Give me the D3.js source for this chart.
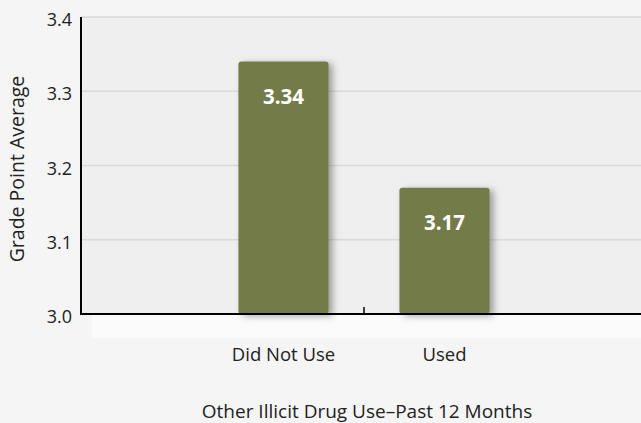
<!DOCTYPE html>
<html>
<head>
<meta charset="utf-8">
<script src="https://cdn.jsdelivr.net/npm/d3@7/dist/d3.min.js"></script>
<style>
  html, body { margin: 0; padding: 0; background: #f5f5f5; }
  svg { display: block; font-family: "Open Sans", "Noto Sans", sans-serif; }
</style>
</head>
<body>
<svg id="chart" width="641" height="423"></svg>
<script>
// Grade point average by other illicit drug use, past 12 months
const categories = ["Did Not Use", "Used"];
const gpaValues = [3.34, 3.17];
const yTicks = [3.0, 3.1, 3.2, 3.3, 3.4];
const xTitle = "Other Illicit Drug Use–Past 12 Months";
const yTitle = "Grade Point Average";

const svg = d3.select("#chart");
const W = 641, H = 423;
const plot = { left: 81, right: 641, top: 17, bottom: 314 };

const y = d3.scaleLinear().domain([3.0, 3.4]).range([plot.bottom, plot.top]);
const x = d3.scaleBand().domain(categories).range([203, 525])
  .paddingInner(0.44).paddingOuter(0.22);

// soft shadow behind the bars
const defs = svg.append("defs");
const f = defs.append("filter").attr("id", "barShadow")
  .attr("x", "-30%").attr("y", "-20%").attr("width", "160%").attr("height", "140%");
f.append("feDropShadow").attr("dx", 4).attr("dy", 2).attr("stdDeviation", 3.5)
  .attr("flood-color", "#000").attr("flood-opacity", 0.35);

// page background and light strip under the axis
svg.append("rect").attr("width", W).attr("height", H).attr("fill", "#f5f5f5");
svg.append("rect").attr("x", 92).attr("y", plot.bottom).attr("width", W - 92).attr("height", 24)
  .attr("fill", "#fbfbfb");

// plot area
svg.append("rect").attr("x", plot.left).attr("y", plot.top)
  .attr("width", plot.right - plot.left).attr("height", plot.bottom - plot.top)
  .attr("fill", "#efefef");

// horizontal gridlines
svg.append("g").selectAll("line").data(yTicks.filter(d => d > 3.0)).join("line")
  .attr("x1", plot.left).attr("x2", plot.right)
  .attr("y1", d => y(d)).attr("y2", d => y(d))
  .attr("stroke", "#d9d9d9").attr("stroke-width", 1.5);

// bars
svg.append("g").selectAll("path").data(categories).join("path")
  .attr("filter", "url(#barShadow)")
  .attr("fill", "#737b49")
  .attr("d", (c, i) => {
    const x0 = x(c), w = x.bandwidth(), y0 = y(gpaValues[i]), y1 = y(3.0), r = 3;
    return `M${x0},${y1 - r} L${x0},${y0 + r} Q${x0},${y0} ${x0 + r},${y0} ` +
      `L${x0 + w - r},${y0} Q${x0 + w},${y0} ${x0 + w},${y0 + r} ` +
      `L${x0 + w},${y1 - r} Q${x0 + w},${y1} ${x0 + w - r},${y1} ` +
      `L${x0 + r},${y1} Q${x0},${y1} ${x0},${y1 - r} Z`;
  });

// value labels inside the bars
svg.append("g").selectAll("text").data(categories).join("text")
  .attr("x", c => x(c) + x.bandwidth() / 2)
  .attr("y", (c, i) => y(gpaValues[i]) + 42)
  .attr("text-anchor", "middle")
  .attr("fill", "#ffffff").attr("font-weight", 700).attr("font-size", 20.5)
  .text((c, i) => d3.format(".2f")(gpaValues[i]));

// axes lines
svg.append("line").attr("x1", plot.left).attr("x2", plot.left)
  .attr("y1", plot.top).attr("y2", plot.bottom + 1)
  .attr("stroke", "#000").attr("stroke-width", 2);
svg.append("line").attr("x1", plot.left - 1).attr("x2", plot.right)
  .attr("y1", plot.bottom).attr("y2", plot.bottom)
  .attr("stroke", "#000").attr("stroke-width", 2);

// category divider tick
svg.append("line")
  .attr("x1", x.range()[0] + x.step()).attr("x2", x.range()[0] + x.step())
  .attr("y1", plot.bottom - 7).attr("y2", plot.bottom)
  .attr("stroke", "#000").attr("stroke-width", 1.5);

// y tick labels
svg.append("g").selectAll("text").data(yTicks).join("text")
  .attr("x", 72).attr("y", d => y(d) + 9)
  .attr("text-anchor", "end").attr("fill", "#222").attr("font-size", 18)
  .text(d => d3.format(".1f")(d));

// category labels
svg.append("g").selectAll("text").data(categories).join("text")
  .attr("x", c => x(c) + x.bandwidth() / 2).attr("y", 361)
  .attr("text-anchor", "middle").attr("fill", "#222").attr("font-size", 18.5)
  .text(c => c);

// axis titles
svg.append("text").attr("x", 367).attr("y", 418)
  .attr("text-anchor", "middle").attr("fill", "#222").attr("font-size", 19)
  .text(xTitle);
svg.append("text").attr("transform", "translate(24,169) rotate(-90)")
  .attr("text-anchor", "middle").attr("fill", "#222").attr("font-size", 19.5)
  .text(yTitle);
</script>
</body>
</html>
